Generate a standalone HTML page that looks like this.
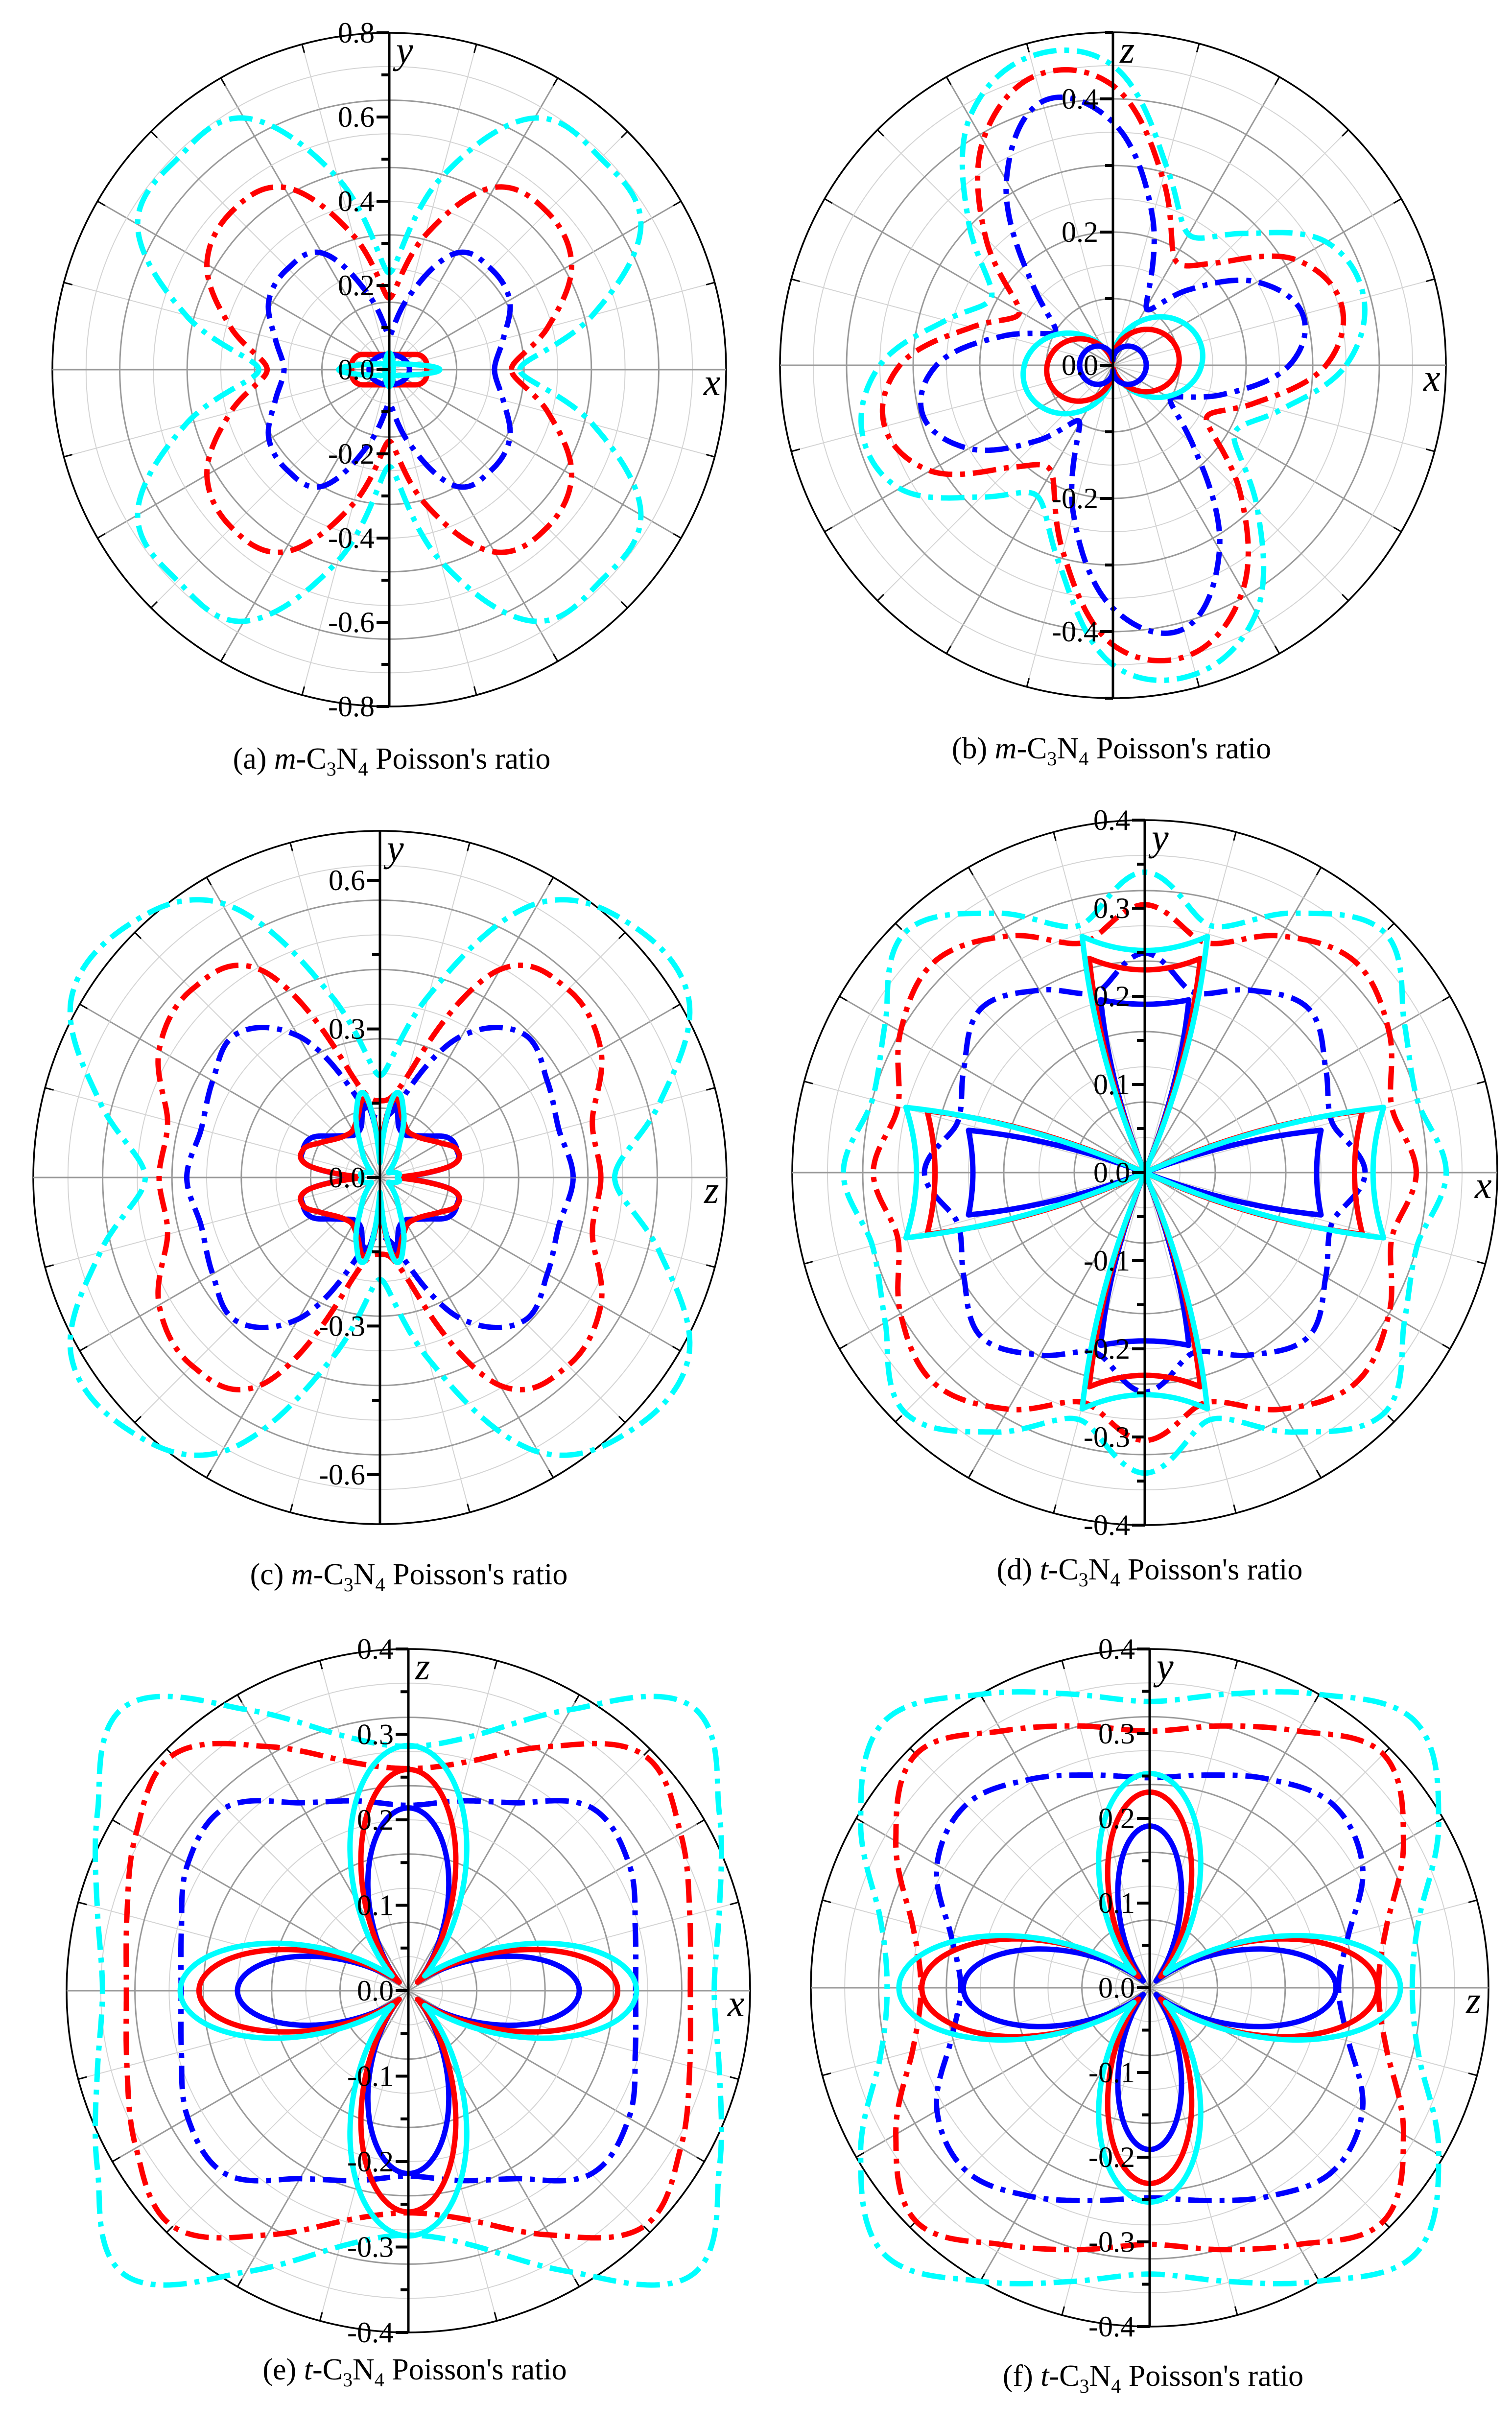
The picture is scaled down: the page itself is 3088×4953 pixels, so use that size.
<!DOCTYPE html>
<html><head><meta charset="utf-8">
<style>
html,body{margin:0;padding:0;background:#fff;}
svg{display:block;}
text{font-family:"Liberation Serif","DejaVu Serif",serif;}
</style></head>
<body>
<svg id="s" xmlns="http://www.w3.org/2000/svg" width="3088" height="4953" viewBox="0 0 3088 4953" font-family="Liberation Serif, DejaVu Serif, serif">
<rect width="3088" height="4953" fill="#fff"/>
<g id="g" font-family="Liberation Serif, DejaVu Serif, serif"></g>
<text x="800" y="1570" font-size="62" text-anchor="middle">(a) <tspan font-style="italic">m</tspan>-C<tspan font-size="40" dy="14">3</tspan><tspan dy="-14">N</tspan><tspan font-size="40" dy="14">4</tspan><tspan dy="-14"> Poisson's ratio</tspan></text>
<text x="2270" y="1549" font-size="62" text-anchor="middle">(b) <tspan font-style="italic">m</tspan>-C<tspan font-size="40" dy="14">3</tspan><tspan dy="-14">N</tspan><tspan font-size="40" dy="14">4</tspan><tspan dy="-14"> Poisson's ratio</tspan></text>
<text x="835" y="3236" font-size="62" text-anchor="middle">(c) <tspan font-style="italic">m</tspan>-C<tspan font-size="40" dy="14">3</tspan><tspan dy="-14">N</tspan><tspan font-size="40" dy="14">4</tspan><tspan dy="-14"> Poisson's ratio</tspan></text>
<text x="2348" y="3226" font-size="62" text-anchor="middle">(d) <tspan font-style="italic">t</tspan>-C<tspan font-size="40" dy="14">3</tspan><tspan dy="-14">N</tspan><tspan font-size="40" dy="14">4</tspan><tspan dy="-14"> Poisson's ratio</tspan></text>
<text x="847" y="4860" font-size="62" text-anchor="middle">(e) <tspan font-style="italic">t</tspan>-C<tspan font-size="40" dy="14">3</tspan><tspan dy="-14">N</tspan><tspan font-size="40" dy="14">4</tspan><tspan dy="-14"> Poisson's ratio</tspan></text>
<text x="2355" y="4873" font-size="62" text-anchor="middle">(f) <tspan font-style="italic">t</tspan>-C<tspan font-size="40" dy="14">3</tspan><tspan dy="-14">N</tspan><tspan font-size="40" dy="14">4</tspan><tspan dy="-14"> Poisson's ratio</tspan></text>
</svg>
<script>
(function(){
var g=document.getElementById('g');
var out=[];
function add(s){out.push(s);}
var RED='#ff0000',BLUE='#0000ff',CYAN='#00ffff';
var DASH='48 16 10 16';
var FF='font-family="Liberation Serif, DejaVu Serif, serif"';
function interp(v,ang){var N=v.length,st=360/N;ang=((ang%360)+360)%360;var x=ang/st,i=Math.floor(x),t=x-i;
var p0=v[(i-1+N)%N],p1=v[i%N],p2=v[(i+1)%N],p3=v[(i+2)%N];
return 0.5*((2*p1)+(-p0+p2)*t+(2*p0-5*p1+4*p2-p3)*t*t+(-p0+3*p1-3*p2+p3)*t*t*t);}
function quad(q){var n=q.length,st=90/(n-1),N=Math.round(360/st),a=[];for(var k=0;k<N;k++){var an=k*st,m=an%180;if(m>90)m=180-m;a.push(q[Math.round(m/st)]);}return a;}
function half(h){var a=[];for(var k=0;k<h.length*2;k++)a.push(h[k%h.length]);return a;}
function pathF(P,f){var s=P.R/P.v,d='';for(var i=0;i<=720;i++){var th=i*0.5,r=f(th);if(r<0)r=0;var rad=th*Math.PI/180;
var x=P.cx+r*s*Math.cos(rad),y=P.cy-r*s*Math.sin(rad);d+=(i?'L':'M')+x.toFixed(1)+','+y.toFixed(1);}return d+'Z';}
function curve(P,f,col,dash){add('<path d="'+pathF(P,f)+'" fill="none" stroke="'+col+'" stroke-width="11"'+(dash?' stroke-dasharray="'+DASH+'"':'')+' stroke-linejoin="round"/>');}
function tab(P,arr,col,dash){curve(P,function(t){return interp(arr,t);},col,dash);}
function petal(P,Rx,nx,Ry,ny,col){curve(P,function(t){var r=t*Math.PI/180;return Math.max(Rx*Math.pow(Math.abs(Math.cos(r)),nx),Ry*Math.pow(Math.abs(Math.sin(r)),ny));},col,false);}
function grid(P){var cx=P.cx,cy=P.cy,R=P.R;
for(var k=0;k<24;k++){if(k%6==0)continue;var a=k*15*Math.PI/180;var maj=(k%2==0);
add('<line x1="'+cx+'" y1="'+cy+'" x2="'+(cx+R*Math.cos(a)).toFixed(1)+'" y2="'+(cy-R*Math.sin(a)).toFixed(1)+'" stroke="'+(maj?'#9a9a9a':'#d4d4d4')+'" stroke-width="'+(maj?3:2)+'"/>');
add('<line x1="'+(cx+(R-18)*Math.cos(a)).toFixed(1)+'" y1="'+(cy-(R-18)*Math.sin(a)).toFixed(1)+'" x2="'+(cx+R*Math.cos(a)).toFixed(1)+'" y2="'+(cy-R*Math.sin(a)).toFixed(1)+'" stroke="#000" stroke-width="3"/>');}
for(var i=1;i<=10;i++){var r=R*i/10;add('<circle cx="'+cx+'" cy="'+cy+'" r="'+r.toFixed(1)+'" fill="none" stroke="'+(i==10?'#000':(i%2==0?'#9a9a9a':'#d4d4d4'))+'" stroke-width="'+(i==10?3.5:(i%2==0?3:2))+'"/>');}
add('<line x1="'+(cx-R)+'" y1="'+cy+'" x2="'+(cx+R)+'" y2="'+cy+'" stroke="#9a9a9a" stroke-width="3"/>');
}
function axes(P){var cx=P.cx,cy=P.cy,R=P.R,s=R/P.v;
add('<line x1="'+cx+'" y1="'+(cy-R)+'" x2="'+cx+'" y2="'+(cy+R)+'" stroke="#000" stroke-width="5"/>');
var n=Math.floor(P.v/P.tick+1e-6);
for(var i=-n;i<=n;i++){var val=i*P.tick,y=cy-val*s;var q=val/P.lab;var lab=Math.abs(q-Math.round(q))<1e-6;
add('<line x1="'+(cx-(lab?26:16))+'" y1="'+y.toFixed(1)+'" x2="'+cx+'" y2="'+y.toFixed(1)+'" stroke="#000" stroke-width="6"/>');
if(lab){var t=(Math.round(val*10)/10).toFixed(1);if(Math.abs(val)<1e-9)t='0.0';
add('<text '+FF+' x="'+(cx-30)+'" y="'+(y+20).toFixed(1)+'" font-size="60" text-anchor="end">'+t+'</text>');}}
add('<text '+FF+' x="'+(cx+14)+'" y="'+(cy-R+62)+'" font-size="78" font-style="italic">'+P.ay+'</text>');
add('<text '+FF+' x="'+(cx+R-46)+'" y="'+(cy+52)+'" font-size="78" font-style="italic">'+P.ax+'</text>');
}
var A={cx:795,cy:755,R:688,v:0.8,tick:0.1,lab:0.2,ay:'y',ax:'x'};
var B={cx:2273,cy:746,R:680,v:0.5,tick:0.1,lab:0.2,ay:'z',ax:'x'};
var C={cx:776,cy:2405,R:708,v:0.7,tick:0.15,lab:0.3,ay:'y',ax:'z'};
var D={cx:2338,cy:2395,R:720,v:0.4,tick:0.05,lab:0.1,ay:'y',ax:'x'};
var E={cx:834,cy:4066,R:698,v:0.4,tick:0.05,lab:0.1,ay:'z',ax:'x'};
var F={cx:2348,cy:4060,R:692,v:0.4,tick:0.05,lab:0.1,ay:'y',ax:'z'};
[A,B,C,D,E,F].forEach(grid);
// A
tab(A,quad([0.31,0.5,0.69,0.71,0.69,0.47,0.23]),CYAN,true);
tab(A,quad([0.29,0.39,0.50,0.53,0.50,0.33,0.17]),RED,true);
tab(A,quad([0.25,0.28,0.33,0.34,0.32,0.18,0.08]),BLUE,true);
(function(){var s=A.R/A.v;
add('<rect x="'+(A.cx-0.089*s)+'" y="'+(A.cy-0.036*s)+'" width="'+(0.178*s)+'" height="'+(0.072*s)+'" rx="22" fill="none" stroke="'+RED+'" stroke-width="11"/>');
add('<ellipse cx="'+A.cx+'" cy="'+A.cy+'" rx="'+(0.048*s)+'" ry="'+(0.036*s)+'" fill="none" stroke="'+BLUE+'" stroke-width="11"/>');
add('<ellipse cx="'+A.cx+'" cy="'+A.cy+'" rx="'+(0.12*s)+'" ry="'+(0.014*s)+'" fill="none" stroke="'+CYAN+'" stroke-width="11"/>');
add('<ellipse cx="'+A.cx+'" cy="'+A.cy+'" rx="'+(0.01*s)+'" ry="'+(0.04*s)+'" fill="none" stroke="'+CYAN+'" stroke-width="11"/>');})();
// B
tab(B,half([0.35,0.39,0.37,0.28,0.227,0.31,0.45,0.48,0.43,0.307,0.21,0.26]),CYAN,true);
tab(B,half([0.32,0.355,0.317,0.217,0.185,0.29,0.42,0.45,0.39,0.27,0.162,0.22]),RED,true);
tab(B,half([0.265,0.295,0.25,0.16,0.10,0.23,0.365,0.41,0.32,0.17,0.10,0.17]),BLUE,true);
function lobe(a,b,p,phi){return function(t){var c=Math.cos((t-phi)*Math.PI/180);return a+b*Math.pow(c*c,p);};}
curve(B,lobe(0.008,0.128,0.75,10),CYAN,false);
curve(B,lobe(0.006,0.094,0.65,8),RED,false);
curve(B,lobe(0.008,0.042,0.4,0),BLUE,false);
// C
tab(C,quad([0.474,0.585,0.72,0.72,0.64,0.38,0.206]),CYAN,true);
tab(C,quad([0.446,0.444,0.515,0.537,0.485,0.21,0.155]),RED,true);
tab(C,quad([0.39,0.374,0.39,0.41,0.33,0.16,0.12]),BLUE,true);
tab(C,quad([0.04,0.15,0.165,0.16,0.13,0.11,0.10,0.11,0.15,0.05]),BLUE,false);
tab(C,quad([0.035,0.15,0.165,0.14,0.12,0.11,0.11,0.13,0.16,0.06]),RED,false);
tab(C,quad([0.035,0.04,0.03,0.02,0.03,0.05,0.08,0.14,0.17,0.03]),CYAN,false);
// D
tab(D,quad([0.342,0.32,0.34,0.385,0.34,0.29,0.341]),CYAN,true);
tab(D,quad([0.308,0.29,0.32,0.338,0.31,0.27,0.304]),RED,true);
tab(D,quad([0.25,0.22,0.237,0.263,0.239,0.212,0.249]),BLUE,true);
function dpetals(P,e,cx,cy,ey,tx,ty,col){var s=P.R/P.v,X=P.cx,Y=P.cy;
function pt(x,y){return (X+x*s).toFixed(1)+','+(Y-y*s).toFixed(1);}
var d='';
d+='M'+pt(0,0)+'Q'+pt(cx*0.5,cy*0.8)+' '+pt(cx,cy)+'Q'+pt(2*e-cx,0)+' '+pt(cx,-cy)+'Q'+pt(cx*0.5,-cy*0.8)+' '+pt(0,0);
d+='M'+pt(0,0)+'Q'+pt(-cx*0.5,cy*0.8)+' '+pt(-cx,cy)+'Q'+pt(-(2*e-cx),0)+' '+pt(-cx,-cy)+'Q'+pt(-cx*0.5,-cy*0.8)+' '+pt(0,0);
d+='M'+pt(0,0)+'Q'+pt(tx*0.8,ty*0.5)+' '+pt(tx,ty)+'Q'+pt(0,2*ey-ty)+' '+pt(-tx,ty)+'Q'+pt(-tx*0.8,ty*0.5)+' '+pt(0,0);
d+='M'+pt(0,0)+'Q'+pt(tx*0.8,-ty*0.5)+' '+pt(tx,-ty)+'Q'+pt(0,-(2*ey-ty))+' '+pt(-tx,-ty)+'Q'+pt(-tx*0.8,-ty*0.5)+' '+pt(0,0);
add('<path d="'+d+'" fill="none" stroke="'+col+'" stroke-width="11" stroke-linejoin="round"/>');}
dpetals(D,0.195,0.2,0.048,0.191,0.05,0.196,BLUE);
dpetals(D,0.238,0.247,0.07,0.23,0.063,0.243,RED);
dpetals(D,0.259,0.271,0.074,0.252,0.071,0.268,CYAN);
// E
tab(E,quad([0.358,0.377,0.42,0.47,0.38,0.31,0.286]),CYAN,true);
tab(E,quad([0.33,0.341,0.368,0.39,0.33,0.278,0.26]),RED,true);
tab(E,quad([0.266,0.275,0.298,0.303,0.254,0.23,0.217]),BLUE,true);
petal(E,0.2,8.5,0.214,7,BLUE);
petal(E,0.245,9,0.259,7.5,RED);
petal(E,0.267,8,0.287,6,CYAN);
// F
tab(F,quad([0.31,0.33,0.394,0.444,0.40,0.359,0.338]),CYAN,true);
tab(F,quad([0.27,0.29,0.346,0.39,0.35,0.32,0.303]),RED,true);
tab(F,quad([0.223,0.243,0.29,0.306,0.284,0.26,0.248]),BLUE,true);
petal(F,0.22,8,0.191,9,BLUE);
petal(F,0.269,7.5,0.231,7.5,RED);
petal(F,0.296,8,0.253,6,CYAN);
[A,B,C,D,E,F].forEach(axes);
g.innerHTML=out.join('');
})();
</script>
</body></html>
